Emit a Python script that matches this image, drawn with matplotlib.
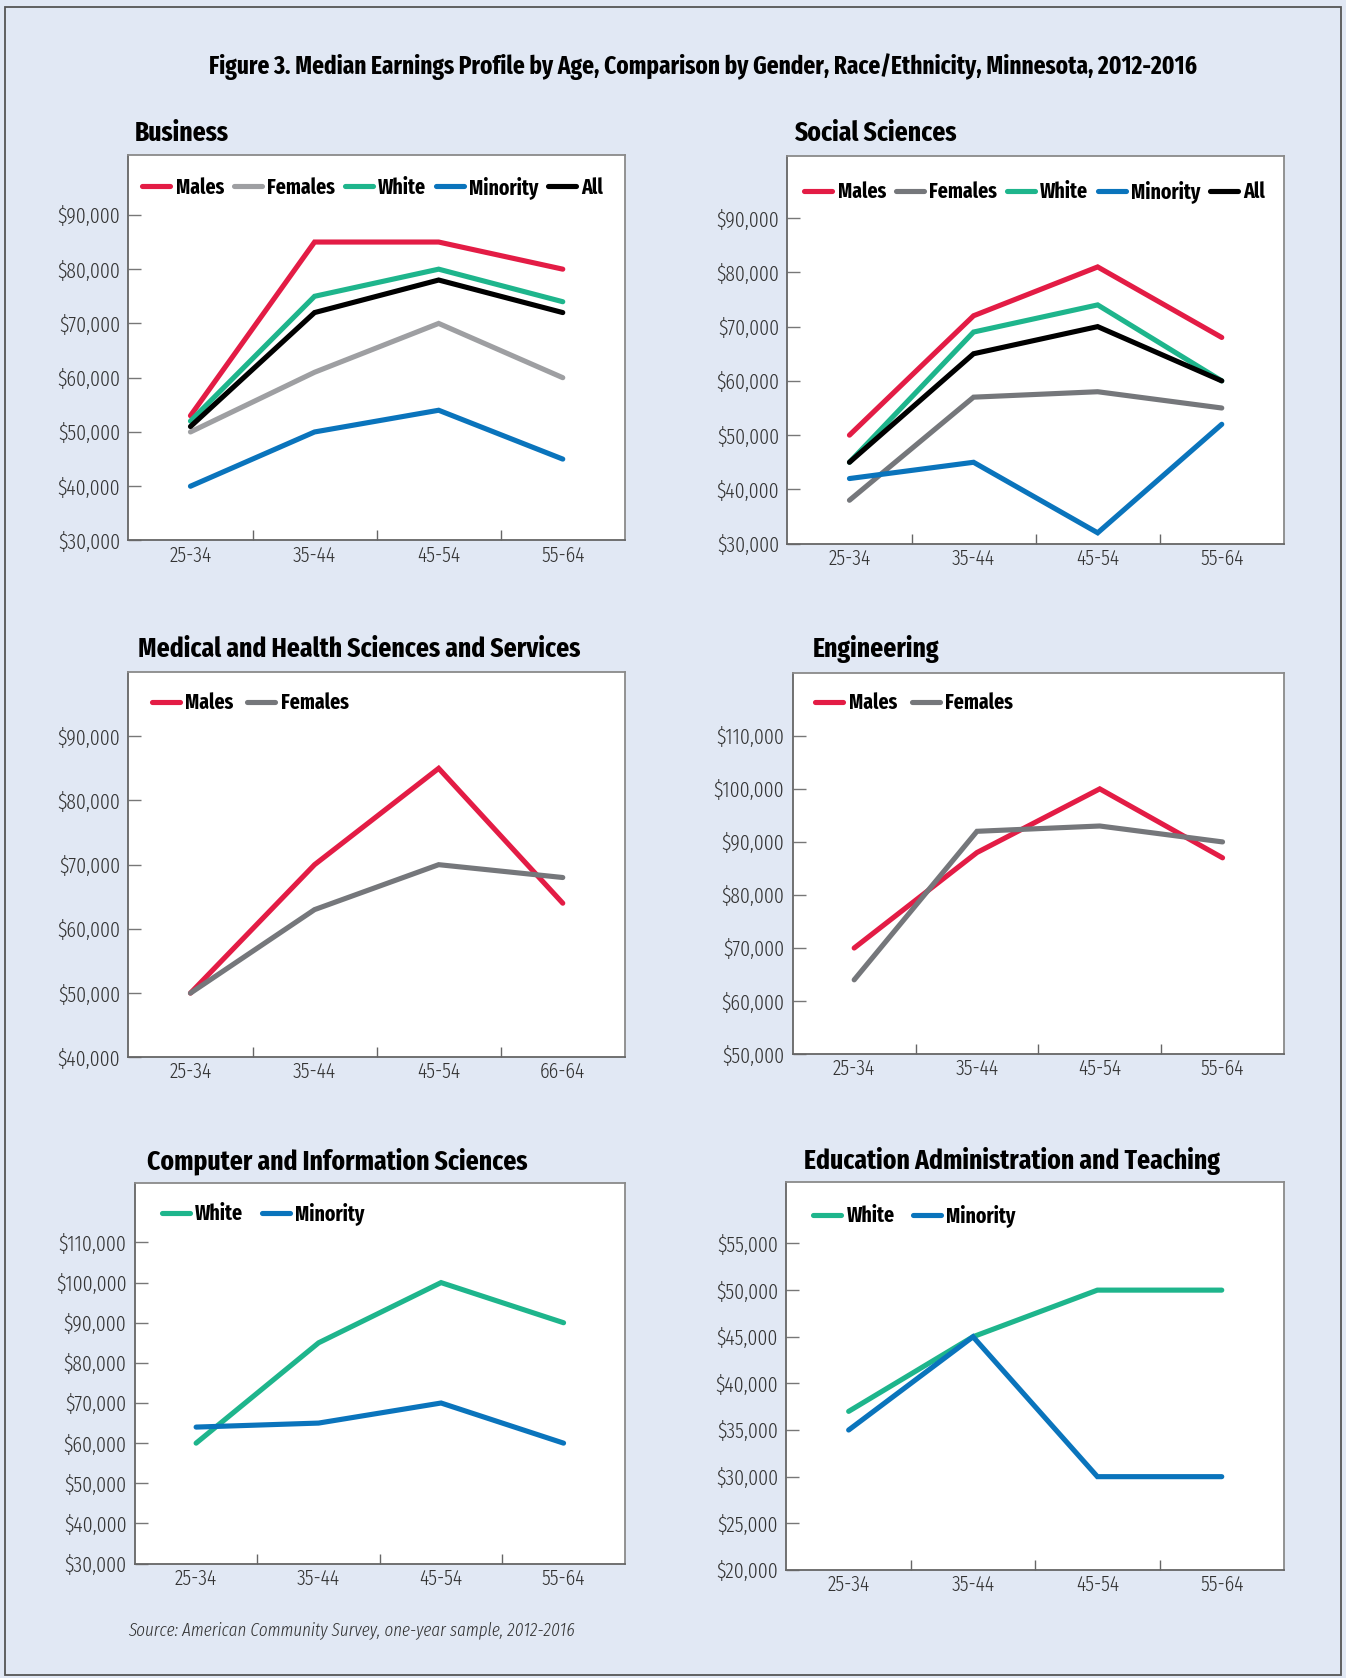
import matplotlib
matplotlib.use('Agg')
import matplotlib.pyplot as plt
from matplotlib.patches import Rectangle
from matplotlib.ticker import FuncFormatter

plt.rcParams['font.family'] = ['Fira Sans Extra Condensed', 'Fira Sans Condensed', 'DejaVu Sans']

# ---------------- data ----------------
ages = ['25-34', '35-44', '45-54', '55-64']
ages_medical = ['25-34', '35-44', '45-54', '66-64']

business_males = [53000, 85000, 85000, 80000]
business_females = [50000, 61000, 70000, 60000]
business_white = [52000, 75000, 80000, 74000]
business_minority = [40000, 50000, 54000, 45000]
business_all = [51000, 72000, 78000, 72000]

social_males = [50000, 72000, 81000, 68000]
social_females = [38000, 57000, 58000, 55000]
social_white = [45000, 69000, 74000, 60000]
social_minority = [42000, 45000, 32000, 52000]
social_all = [45000, 65000, 70000, 60000]

medical_males = [50000, 70000, 85000, 64000]
medical_females = [50000, 63000, 70000, 68000]

engineering_males = [70000, 88000, 100000, 87000]
engineering_females = [64000, 92000, 93000, 90000]

computer_white = [60000, 85000, 100000, 90000]
computer_minority = [64000, 65000, 70000, 60000]

education_white = [37000, 45000, 50000, 50000]
education_minority = [35000, 45000, 30000, 30000]

business_yticks = [30000, 40000, 50000, 60000, 70000, 80000, 90000]
social_yticks = [30000, 40000, 50000, 60000, 70000, 80000, 90000]
medical_yticks = [40000, 50000, 60000, 70000, 80000, 90000]
engineering_yticks = [50000, 60000, 70000, 80000, 90000, 100000, 110000]
computer_yticks = [30000, 40000, 50000, 60000, 70000, 80000, 90000, 100000, 110000]
education_yticks = [20000, 25000, 30000, 35000, 40000, 45000, 50000, 55000]

fig_title = 'Figure 3. Median Earnings Profile by Age, Comparison by Gender, Race/Ethnicity, Minnesota, 2012-2016'
source_text = 'Source: American Community Survey, one-year sample, 2012-2016'

# ---------------- style ----------------
RED = '#E31C45'
GRAY_L = '#9E9FA2'
GRAY_D = '#75777B'
GREEN = '#1EB58C'
BLUE = '#0A74BC'
BLACK = '#000000'
BG = '#E1E8F4'
LW = 3.7
TICK_FS = 15.5
LEG_FS = 15.5

W, H = 1346, 1678
fig = plt.figure(figsize=(W / 100, H / 100), dpi=100)
fig.patch.set_facecolor(BG)
fig.patches.append(Rectangle((0.004, 0.002), 0.992, 0.994, transform=fig.transFigure,
                             fill=False, edgecolor='#555555', linewidth=1.3))

fig.text(0.522, 0.9605, fig_title, ha='center', va='center', fontsize=18.2,
         fontweight='bold', color='black')

money = FuncFormatter(lambda v, p: f'${v:,.0f}')


def panel(rect, ylim, yticks, xlabels, series, title, title_xy, leg_xy, colsp):
    ax = fig.add_axes(rect)
    ax.set_facecolor('white')
    x = list(range(len(xlabels)))
    for label, vals, color in series:
        ax.plot(x, vals, color=color, lw=LW, label=label, solid_capstyle='round',
                solid_joinstyle='miter')
    ax.set_xlim(-0.5, len(xlabels) - 0.5)
    ax.set_ylim(*ylim)
    ax.set_yticks(yticks)
    ax.yaxis.set_major_formatter(money)
    ax.set_xticks(x)
    ax.set_xticklabels(xlabels)
    ax.set_xticks([i + 0.5 for i in range(len(xlabels) - 1)], minor=True)
    ax.tick_params(axis='x', which='major', length=0, pad=3, labelsize=TICK_FS,
                   labelcolor='#333333')
    ax.tick_params(axis='x', which='minor', direction='in', length=7, color='#666666',
                   width=1)
    ax.tick_params(axis='y', direction='in', length=9, color='#777777', width=1,
                   pad=6, labelsize=TICK_FS, labelcolor='#333333')
    for lab in ax.get_xticklabels() + ax.get_yticklabels():
        lab.set_fontweight(300)
    for side, s in ax.spines.items():
        s.set_linewidth(1.3)
        s.set_color('#666666' if side in ('left', 'bottom') else '#8A8A8A')
    ax.legend(loc='center left', bbox_to_anchor=leg_xy, ncol=len(series), frameon=False,
              borderpad=0, borderaxespad=0, handlelength=1.3, handletextpad=0.25,
              columnspacing=colsp, prop={'weight': 'bold', 'size': LEG_FS})
    fig.text(title_xy[0], title_xy[1], title, ha='left', va='center', fontsize=20,
             fontweight='bold', color='black')
    return ax


panel([0.0954, 0.6779, 0.3688, 0.2296], (30000, 101000), business_yticks, ages,
      [('Males', business_males, RED), ('Females', business_females, GRAY_L),
       ('White', business_white, GREEN), ('Minority', business_minority, BLUE),
       ('All', business_all, BLACK)],
      'Business', (126 / 1258, 1 - 125 / 1568), (0.028, 0.917), 0.45)

panel([0.585, 0.676, 0.3688, 0.2309], (30000, 101400), social_yticks, ages,
      [('Males', social_males, RED), ('Females', social_females, GRAY_D),
       ('White', social_white, GREEN), ('Minority', social_minority, BLUE),
       ('All', social_all, BLACK)],
      'Social Sciences', (742 / 1258, 1 - 125 / 1568), (0.034, 0.909), 0.45)

panel([0.0954, 0.3699, 0.3688, 0.2296], (40000, 100000), medical_yticks, ages_medical,
      [('Males', medical_males, RED), ('Females', medical_females, GRAY_D)],
      'Medical and Health Sciences and Services', (129 / 1258, 1 - 607 / 1568),
      (0.047, 0.919), 0.65)

panel([0.589, 0.3718, 0.3649, 0.2270], (50000, 121800), engineering_yticks, ages,
      [('Males', engineering_males, RED), ('Females', engineering_females, GRAY_D)],
      'Engineering', (760 / 1258, 1 - 606 / 1568), (0.046, 0.921), 0.7)

panel([0.1002, 0.0682, 0.364, 0.2270], (30000, 124900), computer_yticks, ages,
      [('White', computer_white, GREEN), ('Minority', computer_minority, BLUE)],
      'Computer and Information Sciences', (137 / 1258, 1 - 1085 / 1568),
      (0.055, 0.919), 0.85)

panel([0.5843, 0.0644, 0.3696, 0.2309], (20000, 61540), education_yticks, ages,
      [('White', education_white, GREEN), ('Minority', education_minority, BLUE)],
      'Education Administration and Teaching', (751 / 1258, 1 - 1085 / 1568),
      (0.054, 0.914), 0.85)

fig.text(120 / 1258, 1 - 1523 / 1568, source_text, ha='left', va='center', fontsize=13.3,
         style='italic', fontweight=300, color='#333333')

fig.savefig('out.png', dpi=100, facecolor=BG)
